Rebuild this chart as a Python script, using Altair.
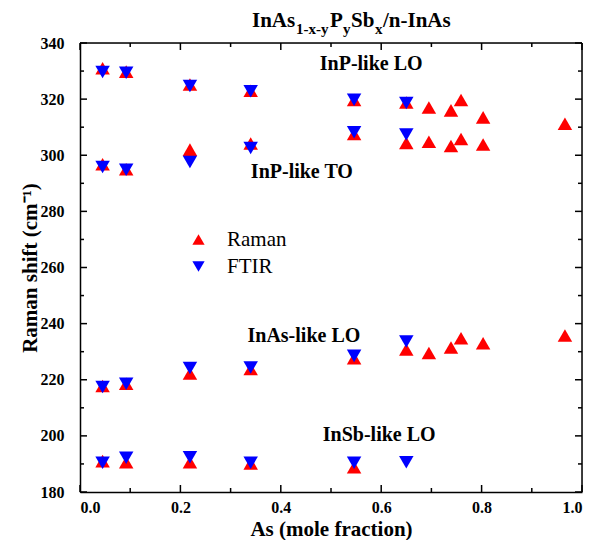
import altair as alt
import pandas as pd

# ---------------- data ----------------
methods = ["Raman", "FTIR"]

raman_x_lo = [0.045, 0.092, 0.219, 0.34, 0.546, 0.65, 0.695, 0.739, 0.759, 0.803, 0.966]
raman_y_lo = [331.0, 329.8, 325.2, 323.0, 319.7, 318.8, 317.0, 316.0, 319.7, 313.5, 311.2]
raman_x_to = [0.045, 0.092, 0.219, 0.34, 0.546, 0.65, 0.695, 0.739, 0.759, 0.803]
raman_y_to = [296.8, 295.0, 302.0, 304.2, 307.6, 304.4, 304.8, 303.3, 305.8, 303.8]
raman_x_inas = [0.045, 0.092, 0.219, 0.34, 0.546, 0.65, 0.695, 0.739, 0.759, 0.803, 0.966]
raman_y_inas = [217.8, 218.6, 222.2, 223.8, 227.7, 230.8, 229.5, 231.5, 234.8, 233.0, 235.8]
raman_x_insb = [0.045, 0.092, 0.219, 0.34, 0.546]
raman_y_insb = [191.0, 190.6, 190.6, 190.2, 188.8]

ftir_x = [0.045, 0.092, 0.219, 0.34, 0.546, 0.65]
ftir_y_lo = [329.7, 329.4, 324.7, 322.8, 319.8, 318.6]
ftir_y_to = [295.8, 294.8, 297.6, 302.6, 308.2, 307.4]
ftir_y_inas = [217.4, 218.6, 224.2, 224.4, 228.5, 233.6]
ftir_y_insb = [190.4, 192.2, 192.4, 190.4, 190.4, 190.6]

x_major = [0.0, 0.2, 0.4, 0.6, 0.8, 1.0]
x_minor = [0.1, 0.3, 0.5, 0.7, 0.9]
y_major = [180, 200, 220, 240, 260, 280, 300, 320, 340]
y_minor = [190, 210, 230, 250, 270, 290, 310, 330]

ann_text = ["InP-like LO", "InP-like TO", "InAs-like LO", "InSb-like LO"]
ann_x = [0.58, 0.442, 0.446, 0.596]
ann_y = [332.5, 294.0, 235.5, 200.3]

title_parts = ["InAs", "1-x-y", "P", "y", "Sb", "x", "/n-InAs"]
title_is_sub = [False, True, False, True, False, True, False]

X_TITLE = "As (mole fraction)"
Y_TITLE = "Raman shift (cm⁻¹)"

# ---------------- tables ----------------
rows = []
for xs_, ys_ in [(raman_x_lo, raman_y_lo), (raman_x_to, raman_y_to),
                 (raman_x_inas, raman_y_inas), (raman_x_insb, raman_y_insb)]:
    for a, b in zip(xs_, ys_):
        rows.append({"x": a, "y": b, "method": "Raman"})
for ys_ in [ftir_y_lo, ftir_y_to, ftir_y_inas, ftir_y_insb]:
    for a, b in zip(ftir_x, ys_):
        rows.append({"x": a, "y": b, "method": "FTIR"})
df = pd.DataFrame(rows)
df["order"] = range(len(df))

ann = pd.DataFrame({"label": ann_text, "x": ann_x, "y": ann_y})

W, H = 502, 449
FONT = "Liberation Serif"

xs = alt.Scale(domain=[0, 1], nice=False, zero=False)
ys = alt.Scale(domain=[180, 340], nice=False, zero=False)

legend = alt.Legend(orient="none", legendX=108, legendY=186, title=None,
                    labelFont=FONT, labelFontSize=21, labelFontWeight="normal",
                    labelColor="black", symbolSize=150, symbolStrokeWidth=0,
                    labelOffset=18, rowPadding=5, padding=0)

color = alt.Color("method:N", sort=methods,
                  scale=alt.Scale(domain=methods, range=["#ff0000", "#0000ff"]),
                  legend=legend)
shape = alt.Shape("method:N", sort=methods,
                  scale=alt.Scale(domain=methods, range=["triangle-up", "triangle-down"]),
                  legend=legend)

ax_x_main = alt.Axis(orient="bottom", values=x_major, format=".1f", ticks=False, tickSize=0,
                     domain=True, domainColor="black", domainWidth=1.5, grid=False,
                     labelFont=FONT, labelFontSize=16,
                     labelFontWeight="bold", labelColor="black", labelPadding=7,
                     title=X_TITLE, titleFont=FONT, titleFontSize=21,
                     titleFontWeight="bold", titleColor="black", titlePadding=3)
ax_y_main = alt.Axis(orient="left", values=y_major, format="d", ticks=False, tickSize=0,
                     domain=True, domainColor="black", domainWidth=1.5, grid=False,
                     labelFont=FONT, labelFontSize=16,
                     labelFontWeight="bold", labelColor="black", labelPadding=16,
                     title=Y_TITLE, titleFont=FONT, titleFontSize=21,
                     titleFontWeight="bold", titleColor="black", titlePadding=0)

points = alt.Chart(df).mark_point(filled=True, opacity=1, size=210, strokeWidth=0).encode(
    x=alt.X("x:Q", scale=xs, axis=ax_x_main, title=X_TITLE),
    y=alt.Y("y:Q", scale=ys, axis=ax_y_main, title=Y_TITLE),
    color=color,
    shape=shape,
    order=alt.Order("order:Q"),
)

# inward ticks drawn as short rules on all four sides
xt_major = pd.DataFrame({"x": x_major})
xt_minor = pd.DataFrame({"x": x_minor})
yt_major = pd.DataFrame({"y": y_major})
yt_minor = pd.DataFrame({"y": y_minor})

EX = alt.X("x:Q", scale=xs, title=X_TITLE)
EY = alt.Y("y:Q", scale=ys, title=Y_TITLE)


def xticks(data, size):
    bottom = alt.Chart(data).mark_rule(color="black", strokeWidth=1.5).encode(
        x=EX, y=alt.value(H), y2=alt.value(H - size))
    top = alt.Chart(data).mark_rule(color="black", strokeWidth=1.5).encode(
        x=EX, y=alt.value(0), y2=alt.value(size))
    return [bottom, top]


def yticks(data, size):
    left = alt.Chart(data).mark_rule(color="black", strokeWidth=1.5).encode(
        y=EY, x=alt.value(0), x2=alt.value(size))
    right = alt.Chart(data).mark_rule(color="black", strokeWidth=1.5).encode(
        y=EY, x=alt.value(W), x2=alt.value(W - size))
    return [left, right]


ticks = xticks(xt_major, 7) + xticks(xt_minor, 4) + yticks(yt_major, 7) + yticks(yt_minor, 4)

# frame (top and right edges at the domain ends)
frame_top = alt.Chart(yt_major[yt_major["y"] == 340]).mark_rule(
    color="black", strokeWidth=1.5).encode(y=EY, x=alt.value(0), x2=alt.value(W))
frame_right = alt.Chart(xt_major[xt_major["x"] == 1.0]).mark_rule(
    color="black", strokeWidth=1.5).encode(x=EX, y=alt.value(0), y2=alt.value(H))

annot = alt.Chart(ann).mark_text(font=FONT, fontSize=20, fontWeight="bold", color="black",
                                 align="center", baseline="middle").encode(
    x=EX, y=EY, text="label:N")

# title with subscripts, built from pieces
one = pd.DataFrame({"a": [0]})
title_x = [172, 216, 250, 263, 271, 295, 303]
title_layers = []
for txt, sub, px in zip(title_parts, title_is_sub, title_x):
    title_layers.append(
        alt.Chart(one).mark_text(font=FONT, fontSize=15 if sub else 21, fontWeight="bold",
                                 color="black", align="left", baseline="alphabetic").encode(
            x=alt.value(px), y=alt.value(-9 if sub else -16), text=alt.value(txt))
    )

chart = alt.layer(points, *ticks, frame_top, frame_right, annot, *title_layers).properties(
    width=W, height=H,
    autosize=alt.AutoSizeParams(type="none"),
    padding={"left": 72, "top": 35, "right": 4, "bottom": 48},
).configure_view(stroke="black", strokeWidth=1.5).configure(background="white")

chart.save("out.html", embed_options={"renderer": "svg", "actions": False})
